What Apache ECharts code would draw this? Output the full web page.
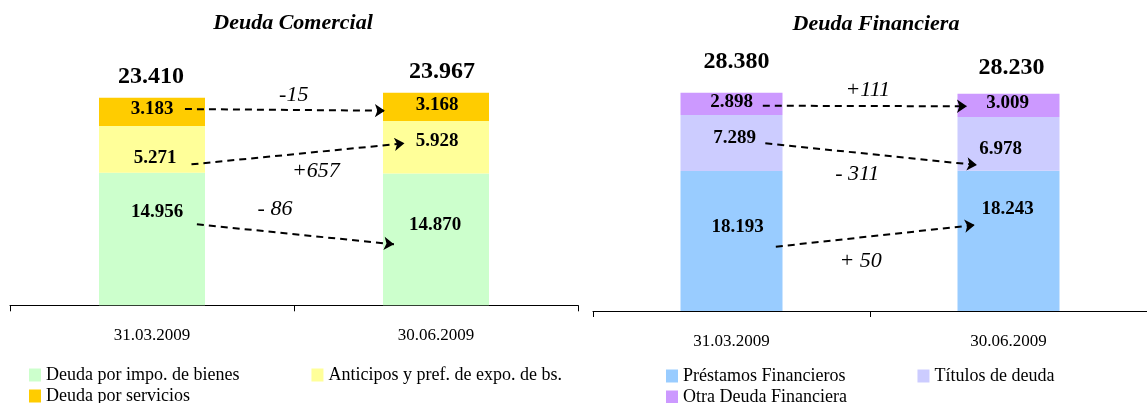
<!DOCTYPE html>
<html>
<head>
<meta charset="utf-8">
<script src="https://cdn.jsdelivr.net/npm/echarts@6/dist/echarts.min.js"></script>
<style>
    html, body { margin: 0; padding: 0; background: #fff; }
    #chart { width: 1147px; height: 403px; }
</style>
</head>
<body>
<div id="chart"></div>
<script>
var categories = ["31.03.2009", "30.06.2009"];

// Deuda Comercial
var comImpoBienes = [14956, 14870];
var comAnticipos = [5271, 5928];
var comServicios = [3183, 3168];
var comTotals = [23410, 23967];
var comChanges = ["-15", "+657", "- 86"];

// Deuda Financiera
var finPrestamos = [18193, 18243];
var finTitulos = [7289, 6978];
var finOtra = [2898, 3009];
var finTotals = [28380, 28230];
var finChanges = ["+111", "- 311", "+ 50"];

// arrow geometry in axis units: [x from, y from, x to, y to], label at [x, y]
var comArrows = [[0.116, 22136, 0.820, 21944], [0.139, 15900, 0.889, 18268], [0.158, 9134, 0.852, 6879]];
var comChangePos = [[0.499, 23714], [0.577, 15178], [0.433, 10826]];
var finArrows = [[0.113, 26690, 0.850, 26612], [0.122, 21802, 0.886, 18981], [0.160, 8359, 0.878, 11180]];
var finChangePos = [[0.492, 28731], [0.454, 17811], [0.466, 6409]];

// label offsets (px)
var comOffsets = [[[5, -27], [-1, -14]], [[3, 9], [1, -6]], [[0, -3], [1, -2]]];
var comTotalOffsets = [[-1, -21], [6, -21]];
var finOffsets = [[[6, -14], [-1, -32]], [[3, -5], [-8, 5]], [[0, -2], [-1, -2]]];
var finTotalOffsets = [[5, -31], [3, -26]];

var FONT = "Liberation Serif";

function fmt(v) {
    var s = String(v % 1000);
    while (s.length < 3) s = "0" + s;
    return Math.floor(v / 1000) + "." + s;
}

function barSeries(name, values, offsets, color, xi, yi) {
    return {
        name: name,
        type: "bar",
        stack: "s" + xi,
        xAxisIndex: xi,
        yAxisIndex: yi,
        barWidth: xi === 0 ? 106 : 102,
        itemStyle: { color: color },
        label: {
            show: true,
            position: "inside",
            color: "#000",
            fontFamily: FONT,
            fontWeight: "bold",
            fontSize: 19,
            formatter: function(p) { return fmt(p.value) }
        },
        data: values.map(function(v, i) {
            return { value: v, label: { offset: offsets[i] } }
        })
    }
}

function totalSeries(totals, offsets, xi, yi) {
    return {
        type: "scatter",
        xAxisIndex: xi,
        yAxisIndex: yi,
        symbolSize: 1,
        itemStyle: { color: "transparent", opacity: 1 },
        label: {
            show: true,
            position: "inside",
            color: "#000",
            fontFamily: FONT,
            fontWeight: "bold",
            fontSize: 24,
            formatter: function(p) { return fmt(p.value[1]) }
        },
        data: totals.map(function(t, i) {
            return { value: [i, t], label: { offset: offsets[i] } }
        })
    }
}

function arrowSeries(arrows, xi, yi) {
    return {
        type: "lines",
        coordinateSystem: "cartesian2d",
        xAxisIndex: xi,
        yAxisIndex: yi,
        symbol: ["none", "arrow"],
        symbolSize: 10,
        z: 5,
        lineStyle: { color: "#000", width: 2, type: [7, 5], opacity: 1 },
        data: arrows.map(function(a) {
            return { coords: [[a[0], a[1]], [a[2], a[3]]] }
        })
    }
}

function changeSeries(texts, pos, xi, yi) {
    return {
        type: "scatter",
        xAxisIndex: xi,
        yAxisIndex: yi,
        symbolSize: 1,
        itemStyle: { color: "transparent", opacity: 1 },
        label: {
            show: true,
            position: "inside",
            color: "#000",
            fontFamily: FONT,
            fontStyle: "italic",
            fontSize: 22,
            formatter: "{b}"
        },
        data: texts.map(function(t, i) {
            return { name: t, value: pos[i] }
        })
    }
}

function catAxis(gi) {
    return {
        gridIndex: gi,
        type: "category",
        data: categories,
        axisLine: { show: true, lineStyle: { color: "#000", width: 1 } },
        axisTick: { show: true, interval: 0, alignWithLabel: false, length: 6, lineStyle: { color: "#000" } },
        axisLabel: { color: "#000", fontFamily: FONT, fontSize: 17, margin: 22 }
    }
}

function posAxis(gi) {
    return { gridIndex: gi, type: "value", min: -0.5, max: 1.5, show: false }
}

function legendRow(names, left, top) {
    return {
        data: names,
        left: left,
        top: top,
        padding: 0,
        itemWidth: 12,
        itemHeight: 13,
        itemGap: 72,
        icon: "rect",
        selectedMode: false,
        textStyle: { color: "#000", fontFamily: FONT, fontSize: 18 }
    }
}

var titleStyle = { color: "#000", fontFamily: FONT, fontSize: 22, fontWeight: "bold", fontStyle: "italic" };

var option = {
    animation: false,
    title: [
        { text: "Deuda Comercial", left: 293, top: 12, padding: 0, textAlign: "center", textStyle: titleStyle },
        { text: "Deuda Financiera", left: 876, top: 13, padding: 0, textAlign: "center", textStyle: titleStyle }
    ],
    legend: [
        legendRow(["Deuda por impo. de bienes", "Anticipos y pref. de expo. de bs."], 29, 366),
        legendRow(["Deuda por servicios"], 29, 387),
        legendRow(["Préstamos Financieros", "Títulos de deuda"], 666, 367),
        legendRow(["Otra Deuda Financiera"], 666, 388)
    ],
    grid: [
        { left: 10, width: 568, top: 39.3, bottom: 97.7 },
        { left: 593, width: 564, top: 41.8, bottom: 92 }
    ],
    xAxis: [catAxis(0), posAxis(0), catAxis(1), posAxis(1)],
    yAxis: [
        { gridIndex: 0, type: "value", min: 0, max: 30000, show: false },
        { gridIndex: 1, type: "value", min: 0, max: 35000, show: false }
    ],
    series: [
        barSeries("Deuda por impo. de bienes", comImpoBienes, comOffsets[0], "#CCFFCC", 0, 0),
        barSeries("Anticipos y pref. de expo. de bs.", comAnticipos, comOffsets[1], "#FFFF99", 0, 0),
        barSeries("Deuda por servicios", comServicios, comOffsets[2], "#FFCC00", 0, 0),
        totalSeries(comTotals, comTotalOffsets, 0, 0),
        arrowSeries(comArrows, 1, 0),
        changeSeries(comChanges, comChangePos, 1, 0),

        barSeries("Préstamos Financieros", finPrestamos, finOffsets[0], "#99CCFF", 2, 1),
        barSeries("Títulos de deuda", finTitulos, finOffsets[1], "#CCCCFF", 2, 1),
        barSeries("Otra Deuda Financiera", finOtra, finOffsets[2], "#CC99FF", 2, 1),
        totalSeries(finTotals, finTotalOffsets, 2, 1),
        arrowSeries(finArrows, 3, 1),
        changeSeries(finChanges, finChangePos, 3, 1)
    ]
};

var myChart = echarts.init(document.getElementById("chart"));
myChart.setOption(option);
</script>
</body>
</html>
